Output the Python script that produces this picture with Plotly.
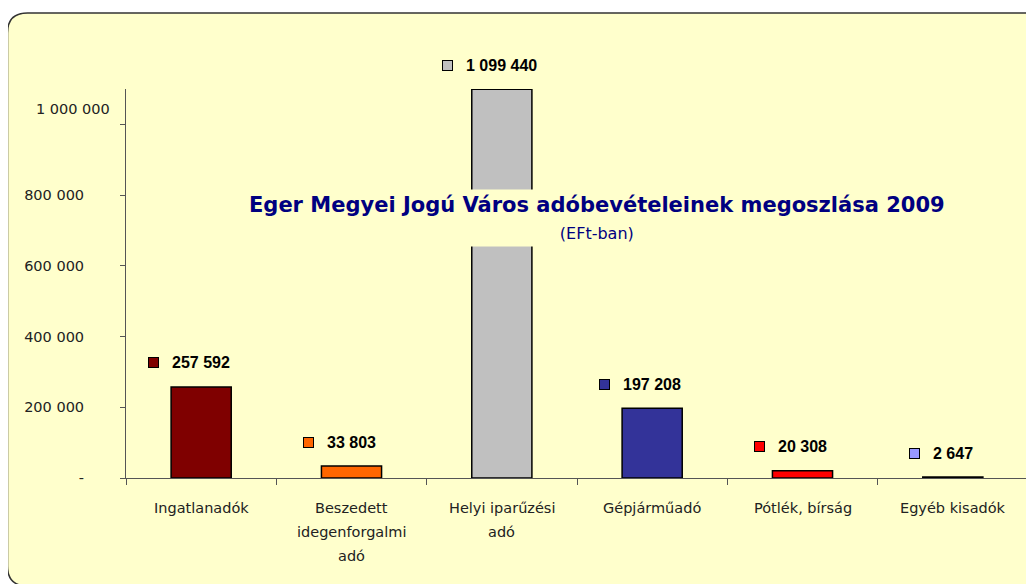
import plotly.graph_objects as go

categories = ["Ingatlanadók", "Beszedett idegenforgalmi adó", "Helyi iparűzési adó",
              "Gépjárműadó", "Pótlék, bírság", "Egyéb kisadók"]
category_lines = [["Ingatlanadók"], ["Beszedett", "idegenforgalmi", "adó"],
                  ["Helyi iparűzési", "adó"], ["Gépjárműadó"], ["Pótlék, bírság"], ["Egyéb kisadók"]]
values = [257592, 33803, 1099440, 197208, 20308, 2647]
value_labels = ["257 592", "33 803", "1 099 440", "197 208", "20 308", "2 647"]
colors = ["#7F0000", "#FF6600", "#C0C0C0", "#333399", "#FF0000", "#9999FF"]
y_tickvals = [0, 200000, 400000, 600000, 800000, 1000000]
y_ticktext = ["-", "200 000", "400 000", "600 000", "800 000", ""]
top_tick_label = "1 000 000"
title_text = "Eger Megyei Jogú Város adóbevételeinek megoszlása 2009"
subtitle_text = "(EFt-ban)"

# the page places the figure 8px in from the top-left corner
OFF = 8
W, H = 1034 - OFF, 584 - OFF
PL, PR, PT, PB = 126, 1028, 89, 478          # plot area in page pixels
ML, MR, MT, MB = PL - OFF, W - (PR - OFF), PT - OFF, H - (PB - OFF)
PW, PH = PR - PL, PB - PT


def px(x):
    return (x - PL) / PW


def py(y):
    return (PB - y) / PH


fig = go.Figure()
fig.add_trace(go.Bar(
    x=categories, y=values, width=0.4,
    marker=dict(color=colors, line=dict(color="#000000", width=1.5)),
    hoverinfo="x+y", showlegend=False,
))

# rounded panel
L, T, R, B, r = 7.5, 13, 1050, 586, 20
pts = [
    ("M", [(L + r, T)]), ("L", [(R - r, T)]), ("Q", [(R, T), (R, T + r)]),
    ("L", [(R, B - r)]), ("Q", [(R, B), (R - r, B)]), ("L", [(L + r, B)]),
    ("Q", [(L, B), (L, B - r)]), ("L", [(L, T + r)]), ("Q", [(L, T), (L + r, T)]),
]
path = " ".join(c + " " + " ".join(f"{px(a):.5f},{py(b):.5f}" for a, b in p) for c, p in pts) + " Z"
fig.add_shape(type="path", path=path, xref="paper", yref="paper", layer="below",
              fillcolor="#FFFFCC", line=dict(color="#333333", width=1.5))

annotations = []
label_font = dict(family="Liberation Sans, Arial", size=16, color="#000000")


def text_width(s):
    return sum(4.45 if ch == " " else 8.9 for ch in s)


for cat, val, lab, col in zip(categories, values, value_labels, colors):
    annotations.append(dict(x=cat, y=val, xref="x", yref="y", text=f"<b>{lab}</b>",
                            showarrow=False, yshift=24, font=label_font,
                            xanchor="center", yanchor="middle"))
    annotations.append(dict(x=cat, y=val, xref="x", yref="y", text=" ", showarrow=False,
                            width=9, height=9, bgcolor=col, bordercolor="#000000",
                            borderwidth=1, borderpad=0,
                            xshift=-(text_width(lab) / 2 + 13 + 5.5), yshift=24,
                            font=dict(size=4)))

tick_font = dict(family="DejaVu Sans", size=14.5, color="#222222")
for cat, lines in zip(categories, category_lines):
    for i, line in enumerate(lines):
        annotations.append(dict(x=cat, xref="x", y=py(508 + 24 * i), yref="paper",
                                text=line, showarrow=False, font=tick_font,
                                xanchor="center", yanchor="middle"))

annotations.append(dict(x=px(112), y=py(109), xref="paper", yref="paper",
                        text=top_tick_label, showarrow=False, font=tick_font,
                        xanchor="right", yanchor="middle"))

annotations.append(dict(
    x=px(597), y=py(218), xref="paper", yref="paper",
    text=f"<b>{title_text}</b><br><span style='font-size:16px'>{subtitle_text}</span>",
    showarrow=False, font=dict(family="DejaVu Sans", size=21, color="#000080"),
    bgcolor="#FFFFCC", borderpad=3, xanchor="center", yanchor="middle",
))

fig.update_layout(
    width=W, height=H,
    margin=dict(l=ML, r=MR, t=MT, b=MB, pad=0),
    paper_bgcolor="#FFFFFF", plot_bgcolor="rgba(0,0,0,0)",
    annotations=annotations,
    xaxis=dict(type="category", showticklabels=False, ticks="outside", ticklen=6,
               tickson="boundaries", tickcolor="#555555", showline=True,
               linecolor="#555555", linewidth=1, showgrid=False, zeroline=False,
               range=[-0.5, 5.5]),
    yaxis=dict(range=[0, 1100000], tickvals=y_tickvals, ticktext=y_ticktext,
               ticks="outside", ticklen=5, tickcolor="#555555", showline=True,
               linecolor="#555555", linewidth=1, showgrid=False, zeroline=False,
               tickfont=tick_font, ticklabelstandoff=33),
)

fig.write_html("out.html")
